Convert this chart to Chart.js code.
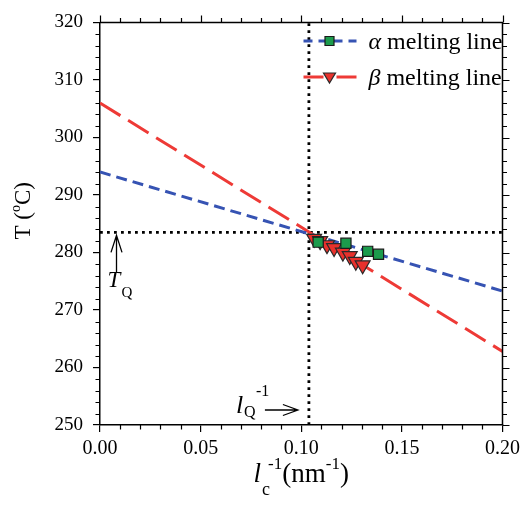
<!DOCTYPE html>
<html>
<head>
<meta charset="utf-8">
<script src="https://cdn.jsdelivr.net/npm/chart.js@4/dist/chart.umd.min.js"></script>
<style>
  html, body { margin: 0; padding: 0; background: #fff; }
  canvas { display: block; }
</style>
</head>
<body>
<canvas id="c" width="525" height="505"></canvas>
<script>
const SERIF = '"Liberation Serif", "Times New Roman", serif';

// inverse lamellar thickness (nm^-1) and measured melting temperatures (°C)
const alphaInvL = [0.1084, 0.1222, 0.1330, 0.1384];
const alphaTm   = [281.8, 281.6, 280.2, 279.7];
const betaInvL  = [0.1064, 0.1094, 0.1128, 0.1163, 0.1207, 0.1241, 0.1271, 0.1305];
const betaTm    = [282.4, 282.0, 281.3, 280.8, 280.0, 279.4, 278.4, 277.8];

// extrapolated Gibbs-Thomson lines, evaluated at both ends of the axis
const lineInvL  = [0, 0.2];
const alphaLine = [294.0, 273.3];
const betaLine  = [306.0, 262.8];

// crossing point of the two melting lines
const T_Q = 283.5;
const L_Q_INV = 0.1038;

const xTicks = [0, 0.05, 0.10, 0.15, 0.20];
const yTicks = [250, 260, 270, 280, 290, 300, 310, 320];

const GREEN = '#1c9b4c';
const RED = '#e8312c';
const BLUE = '#3653b3';
const RED_LINE = '#ee3a36';

const pts = (xs, ys) => xs.map((x, i) => ({ x, y: ys[i] }));

const datasets = [
  { label: 'α', data: pts(alphaInvL, alphaTm), showLine: false,
    pointStyle: 'rect', pointRadius: 7.2, pointBackgroundColor: GREEN,
    pointBorderColor: '#1a1a1a', pointBorderWidth: 1.2, order: 0,
    legendColor: BLUE, legendDash: [9, 6] },
  { label: 'β', data: pts(betaInvL, betaTm), showLine: false,
    pointStyle: 'triangle', pointRotation: 180, pointRadius: 8.6,
    pointBackgroundColor: RED, pointBorderColor: '#2a2a2a', pointBorderWidth: 1.2, order: 1,
    legendColor: RED_LINE, legendDash: [20, 13] },
  { data: pts(lineInvL, alphaLine), showLine: true, pointRadius: 0,
    borderColor: BLUE, borderWidth: 3, borderDash: [11, 6], order: 2 },
  { data: pts(lineInvL, betaLine), showLine: true, pointRadius: 0,
    borderColor: RED_LINE, borderWidth: 3, borderDash: [24, 9], order: 3 },
  { data: pts([0, 0.2], [T_Q, T_Q]), showLine: true, pointRadius: 0,
    borderColor: '#000', borderWidth: 2.8, borderDash: [2.8, 4.2], order: 4 },
  { data: pts([L_Q_INV, L_Q_INV], [250, 320]), showLine: true, pointRadius: 0,
    borderColor: '#000', borderWidth: 2.8, borderDash: [2.8, 4.2], order: 5 }
];

// draws a run of text pieces: [text, sizePx, italic, dy]
function drawRuns(ctx, runs, x, y) {
  let cx = x;
  for (const [t, size, italic, dy] of runs) {
    ctx.font = (italic ? 'italic ' : '') + size + 'px ' + SERIF;
    ctx.fillText(t, cx, y + (dy || 0));
    cx += ctx.measureText(t).width;
  }
  return cx - x;
}
function runsWidth(ctx, runs) {
  let w = 0;
  for (const [t, size, italic] of runs) {
    ctx.font = (italic ? 'italic ' : '') + size + 'px ' + SERIF;
    w += ctx.measureText(t).width;
  }
  return w;
}
function openArrow(ctx, x0, y0, x1, y1, head, half) {
  const a = Math.atan2(y1 - y0, x1 - x0);
  ctx.beginPath();
  ctx.moveTo(x0, y0); ctx.lineTo(x1, y1);
  const bx = x1 - Math.cos(a) * head, by = y1 - Math.sin(a) * head;
  const nx = -Math.sin(a) * half, ny = Math.cos(a) * half;
  ctx.moveTo(bx + nx, by + ny); ctx.lineTo(x1, y1); ctx.lineTo(bx - nx, by - ny);
  ctx.stroke();
}

const decorations = {
  id: 'decorations',
  afterDraw(chart) {
    const { ctx, chartArea: a, scales: { x, y } } = chart;
    ctx.save();
    ctx.strokeStyle = '#000';
    ctx.fillStyle = '#000';

    // top and right frame
    ctx.lineWidth = 1.5;
    ctx.beginPath();
    ctx.moveTo(a.left, a.top); ctx.lineTo(a.right, a.top); ctx.lineTo(a.right, a.bottom);
    ctx.stroke();

    // ticks on all four sides, pointing outward
    ctx.lineWidth = 1.2;
    ctx.beginPath();
    for (let v = 250; v <= 320; v += 2) {
      const py = Math.round(y.getPixelForValue(v)) + 0.5;
      const major = v % 10 === 0;
      const len = major ? 7 : 4.5;
      if (!major) { ctx.moveTo(a.left, py); ctx.lineTo(a.left - len, py); }
      ctx.moveTo(a.right, py); ctx.lineTo(a.right + len, py);
    }
    for (let i = 0; i <= 20; i++) {
      const v = i / 100;
      const px = Math.round(x.getPixelForValue(v)) + 0.5;
      const major = i % 5 === 0;
      const len = major ? 7 : 4.5;
      if (!major) { ctx.moveTo(px, a.bottom); ctx.lineTo(px, a.bottom + len); }
      ctx.moveTo(px, a.top); ctx.lineTo(px, a.top - len);
    }
    ctx.stroke();

    // legend
    ctx.textBaseline = 'alphabetic';
    ctx.textAlign = 'left';
    const rows = [datasets[0], datasets[1]];
    rows.forEach((d, i) => {
      const cy = a.top + 18.5 + i * 36;
      const lx0 = a.right - 199, lx1 = a.right - 146, mx = a.right - 173;
      ctx.save();
      ctx.strokeStyle = d.legendColor;
      ctx.lineWidth = 3;
      ctx.setLineDash(d.legendDash);
      ctx.beginPath(); ctx.moveTo(lx0, cy); ctx.lineTo(lx1, cy); ctx.stroke();
      ctx.restore();
      ctx.save();
      ctx.fillStyle = d.pointBackgroundColor;
      ctx.strokeStyle = d.pointBorderColor;
      ctx.lineWidth = 1.2;
      ctx.beginPath();
      if (d.pointStyle === 'rect') {
        ctx.rect(mx - 4.5, cy - 4.5, 9, 9);
      } else {
        ctx.moveTo(mx - 6, cy - 4); ctx.lineTo(mx + 6, cy - 4); ctx.lineTo(mx, cy + 6);
        ctx.closePath();
      }
      ctx.fill(); ctx.stroke();
      ctx.restore();
      drawRuns(ctx, [[d.label, 24, true], [' melting line', 24, false]], a.right - 134, cy + 8);
    });

    // T_Q marker on the left
    ctx.lineWidth = 1.3;
    const ax = x.getPixelForValue(0.0082);
    const tipY = y.getPixelForValue(T_Q) + 3;
    openArrow(ctx, ax, tipY + 37, ax, tipY, 17, 5.5);
    drawRuns(ctx, [['T', 23, true]], ax - 9, tipY + 52);
    drawRuns(ctx, [['Q', 15, false]], ax + 5, tipY + 62);

    // l_Q^-1 marker at the bottom
    const tipX = x.getPixelForValue(L_Q_INV) - 11;
    const ly = a.bottom - 15;
    openArrow(ctx, tipX - 33, ly, tipX, ly, 15, 5.5);
    drawRuns(ctx, [['l', 26, true]], tipX - 62, ly + 3);
    drawRuns(ctx, [['Q', 16, false]], tipX - 54, ly + 7);
    drawRuns(ctx, [['-1', 16, false]], tipX - 42, ly - 14);

    // x-axis title: l_c^-1 (nm^-1)
    {
      ctx.font = 'italic 27px ' + SERIF; const wl = ctx.measureText('l').width;
      ctx.font = '17px ' + SERIF; const ws = ctx.measureText('-1').width;
      ctx.font = '27px ' + SERIF; const wn = ctx.measureText('(nm').width, wp = ctx.measureText(')').width;
      const total = wl + 1 + 6 + ws + wn + ws + wp;
      let cx = (a.left + a.right) / 2 - total / 2;
      const base = a.bottom + 57;
      ctx.font = 'italic 27px ' + SERIF; ctx.fillText('l', cx, base); cx += wl + 1;
      ctx.font = '18px ' + SERIF; ctx.fillText('c', cx, base + 13);
      ctx.font = '17px ' + SERIF; ctx.fillText('-1', cx + 6, base - 13);
      cx += 6 + ws;
      ctx.font = '27px ' + SERIF; ctx.fillText('(nm', cx, base); cx += wn;
      ctx.font = '17px ' + SERIF; ctx.fillText('-1', cx, base - 13); cx += ws;
      ctx.font = '27px ' + SERIF; ctx.fillText(')', cx, base);
    }

    // y-axis title
    const yt = [['T (', 23, false], ['o', 14, false, -10], ['C)', 23, false]];
    const yw = runsWidth(ctx, yt);
    ctx.save();
    ctx.translate(30, (a.top + a.bottom) / 2 - 13);
    ctx.rotate(-Math.PI / 2);
    drawRuns(ctx, yt, -yw / 2, 0);
    ctx.restore();

    ctx.restore();
  }
};

new Chart(document.getElementById('c'), {
  type: 'scatter',
  data: { datasets },
  options: {
    responsive: false,
    animation: false,
    devicePixelRatio: 1,
    events: [],
    layout: { padding: { top: 22.5, right: 19, left: 0, bottom: 0 } },
    plugins: { legend: { display: false }, tooltip: { enabled: false } },
    scales: {
      x: {
        type: 'linear', min: 0, max: 0.2,
        afterBuildTicks: s => { s.ticks = xTicks.map(v => ({ value: v })); },
        afterFit: s => { s.height = 80; },
        ticks: { color: '#000', font: { family: SERIF, size: 20 }, padding: 5,
                 maxRotation: 0, autoSkip: false, callback: v => Number(v).toFixed(2) },
        grid: { drawOnChartArea: false, drawTicks: true, tickLength: 7, color: '#000', lineWidth: 1.2 },
        border: { display: true, color: '#000', width: 1.5 }
      },
      y: {
        type: 'linear', min: 250, max: 320,
        afterBuildTicks: s => { s.ticks = yTicks.map(v => ({ value: v })); },
        afterFit: s => { s.width = 100; },
        ticks: { color: '#000', font: { family: SERIF, size: 19 }, padding: 10 },
        grid: { drawOnChartArea: false, drawTicks: true, tickLength: 7, color: '#000', lineWidth: 1.2 },
        border: { display: true, color: '#000', width: 1.5 }
      }
    }
  },
  plugins: [decorations]
});
</script>
</body>
</html>
